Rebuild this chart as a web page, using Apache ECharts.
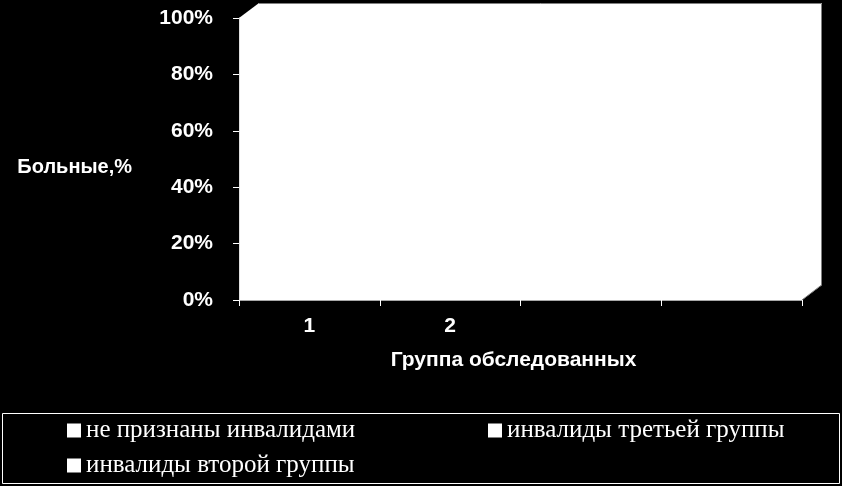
<!DOCTYPE html>
<html><head><meta charset="utf-8">
<script src="https://cdn.jsdelivr.net/npm/echarts@6/dist/echarts.min.js"></script>
<style>html,body{margin:0;padding:0;background:#000}#c{width:842px;height:486px}</style>
</head><body><div id="c"></div>
<script>
// Categories (4 slots on the axis, only two labelled)
const categories = ['1', '2', '', ''];
// Series names
const seriesNames = ['не признаны инвалидами', 'инвалиды третьей группы', 'инвалиды второй группы'];
// Series values (100% stacked, bars are white on the white wall)
const notDisabled = [55, 45, null, null];
const thirdGroup = [30, 35, null, null];
const secondGroup = [15, 20, null, null];
// Y axis ticks
const yMin = 0, yMax = 100, yStep = 20;

const GRID = {left: 239, top: 18, right: 40, bottom: 186};
const DEPTH = {dx: 20, dy: 15};
const W = 842, H = 486;
const gx = GRID.left, gy = GRID.top, gw = W - GRID.left - GRID.right, gh = H - GRID.top - GRID.bottom;

const boldSans = {color: '#fff', fontFamily: 'Liberation Sans, Arial, sans-serif', fontWeight: 'bold', fontSize: 20};

const chart = echarts.init(document.getElementById('c'));
chart.setOption({
  backgroundColor: '#000',
  animation: false,
  grid: Object.assign({containLabel: false}, GRID),
  xAxis: {
    type: 'category', data: categories, boundaryGap: true, zlevel: 1, z: 10,
    axisLine: {show: true, lineStyle: {color: '#a8a8a8', width: 1}},
    axisTick: {show: true, length: 6, lineStyle: {color: '#fff'}},
    axisLabel: Object.assign({margin: 16}, boldSans, {fontSize: 21}),
    name: 'Группа обследованных', nameLocation: 'middle', nameGap: 50,
    nameTextStyle: Object.assign({padding: [0, 14, 0, 0]}, boldSans, {fontSize: 21}),
    splitLine: {show: false}
  },
  yAxis: {
    type: 'value', min: yMin, max: yMax, interval: yStep, zlevel: 1, z: 10,
    axisLine: {show: true, lineStyle: {color: '#e0e0e0', width: 1}},
    axisTick: {show: true, length: 6, lineStyle: {color: '#fff'}},
    splitLine: {show: false},
    axisLabel: Object.assign({formatter: '{value}%', margin: 26}, boldSans, {fontSize: 21}),
    name: 'Больные,%', nameLocation: 'middle', nameRotate: 0, nameGap: 107,
    nameTextStyle: Object.assign({verticalAlign: 'top', lineHeight: 16}, boldSans)
  },
  legend: {
    left: 67, top: 418, padding: 0, width: 845,
    icon: 'rect', itemWidth: 14, itemHeight: 14, itemGap: 10,
    textStyle: {color: '#fff', fontFamily: 'Liberation Serif, Times New Roman, serif', fontSize: 25, lineHeight: 25, width: 392, padding: [0, 0, 0, 0]},
    data: seriesNames
  },
  graphic: [
    {
      type: 'polygon', z: -1, silent: true,
      shape: {points: [
        [gx, gy + gh], [gx, gy], [gx + DEPTH.dx, gy - DEPTH.dy],
        [gx + gw + DEPTH.dx, gy - DEPTH.dy], [gx + gw + DEPTH.dx, gy + gh - DEPTH.dy], [gx + gw, gy + gh]
      ]},
      style: {fill: '#fff', stroke: null}
    },
    {
      type: 'polyline', z: -1, silent: true,
      shape: {points: [
        [gx + DEPTH.dx, gy - DEPTH.dy + 0.5], [gx + gw + DEPTH.dx - 0.5, gy - DEPTH.dy + 0.5],
        [gx + gw + DEPTH.dx - 0.5, gy + gh - DEPTH.dy], [gx + gw, gy + gh]
      ]},
      style: {fill: null, stroke: '#808080', lineWidth: 1}
    },
    {
      type: 'rect', silent: true,
      shape: {x: 2.5, y: 413.5, width: 837, height: 70},
      style: {fill: 'none', stroke: '#fff', lineWidth: 1}
    }
  ],
  series: [
    {name: seriesNames[0], type: 'bar', stack: 'all', data: notDisabled, barWidth: '55%', z: 1, itemStyle: {color: '#fff'}},
    {name: seriesNames[1], type: 'bar', stack: 'all', data: thirdGroup, barWidth: '55%', z: 1, itemStyle: {color: '#fff'}},
    {name: seriesNames[2], type: 'bar', stack: 'all', data: secondGroup, barWidth: '55%', z: 1, itemStyle: {color: '#fff'}}
  ]
});
</script></body></html>
